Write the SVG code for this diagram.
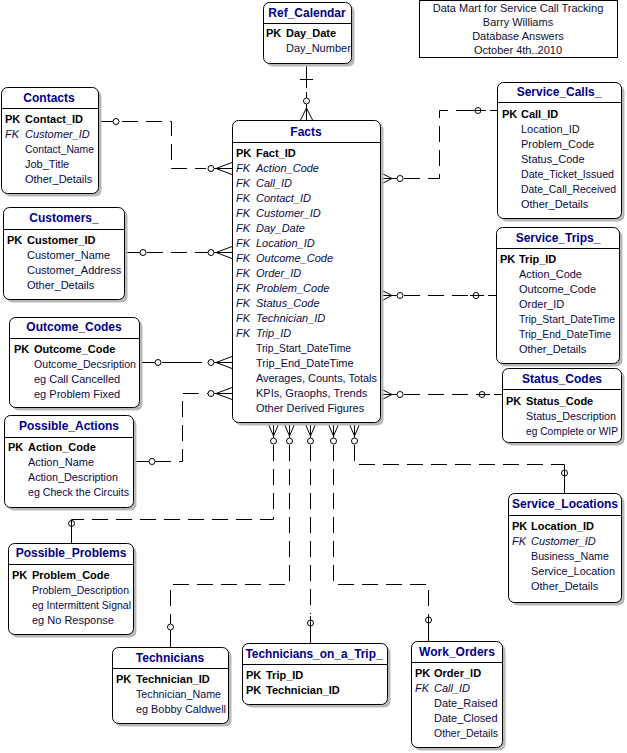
<svg xmlns="http://www.w3.org/2000/svg" width="627" height="753" viewBox="0 0 627 753">
<style>
.bg{fill:#ffffff}
.sh{fill:#b8b8b8;stroke:none}
.box{fill:#ffffff;stroke:#000000;stroke-width:1}
.hl{stroke:#000000;stroke-width:1}
.t{font-family:"Liberation Sans",Arial,sans-serif;font-size:12px;font-weight:bold;fill:#000088;text-anchor:middle}
.pk{font-family:"Liberation Sans",Arial,sans-serif;font-size:11px;font-weight:bold;fill:#000000}
.fk{font-family:"Liberation Sans",Arial,sans-serif;font-size:11px;font-style:italic;fill:#0a0a48}
.a{font-family:"Liberation Sans",Arial,sans-serif;font-size:11px;fill:#0a0a48}
.note{font-family:"Liberation Sans",Arial,sans-serif;font-size:11px;fill:#101030;text-anchor:middle}
.ln{fill:none;stroke:#000000;stroke-width:1}
.dl{fill:none;stroke:#000000;stroke-width:1;stroke-dasharray:16,8}
.c{fill:#ffffff;stroke:#000000;stroke-width:1}
.co{fill:none;stroke:#000000;stroke-width:1}
</style>
<rect class="bg" x="0" y="0" width="627" height="753"/>

<g id="title-note">
<rect x="419.5" y="0.5" width="198" height="57" fill="none" stroke="#000000"/>
<text class="note" x="518" y="12">Data Mart for Service Call Tracking</text>
<text class="note" x="518" y="26">Barry Williams</text>
<text class="note" x="518" y="40">Database Answers</text>
<text class="note" x="518" y="54">October 4th..2010</text>
</g>

<g id="connectors">
<!-- Ref_Calendar -> Facts -->
<path class="ln" d="M306.5,63 V88 M306.5,92 V120"/>
<path class="ln" d="M300,79.5 H313"/>
<circle class="c" cx="306.5" cy="101" r="3"/>
<path class="ln" d="M306.5,108 L300.5,120 M306.5,108 L312.5,120"/>

<!-- Contacts -> Facts -->
<path class="ln" d="M98,121.5 H113"/>
<circle class="c" cx="116" cy="121.5" r="3"/>
<path class="dl" d="M122,121.5 H171.5 V168.5 H206"/>
<path class="ln" d="M214,168.5 H232 M216,168.5 L232,162.5 M216,168.5 L232,174.5"/>
<circle class="c" cx="211" cy="168.5" r="3"/>

<!-- Customers_ -> Facts -->
<path class="ln" d="M124,252.5 H140"/>
<circle class="c" cx="143" cy="252.5" r="3"/>
<path class="dl" d="M147,252.5 H208"/>
<path class="ln" d="M214,252.5 H232 M216,252.5 L232,246.5 M216,252.5 L232,258.5"/>
<circle class="c" cx="211" cy="252.5" r="3"/>

<!-- Outcome_Codes -> Facts -->
<path class="ln" d="M139,362.5 H155"/>
<circle class="c" cx="158" cy="362.5" r="3"/>
<path class="dl" d="M162,362.5 H208" style="stroke-dasharray:40,6"/>
<path class="ln" d="M214,362.5 H232 M216,362.5 L232,356.5 M216,362.5 L232,368.5"/>
<circle class="c" cx="211" cy="362.5" r="3"/>

<!-- Possible_Actions -> Facts -->
<path class="ln" d="M133,461.5 H149"/>
<circle class="c" cx="152" cy="461.5" r="3"/>
<path class="dl" d="M155,461.5 H182.5 V393.5 H208"/>
<path class="ln" d="M214,393.5 H232 M216,393.5 L232,387.5 M216,393.5 L232,399.5"/>
<circle class="c" cx="211" cy="393.5" r="3"/>

<!-- Facts -> Service_Calls_ -->
<path class="ln" d="M380,178.5 H397 M392,178.5 L380,172.5 M392,178.5 L380,184.5"/>
<circle class="c" cx="400" cy="178.5" r="3"/>
<path class="dl" d="M404,178.5 H439.5 V110.5 H472"/>
<path class="ln" d="M472,110.5 H486 M490,110.5 H497"/>
<circle class="co" cx="478" cy="110.5" r="3"/>

<!-- Facts -> Service_Trips_ -->
<path class="ln" d="M380,295.5 H397 M392,295.5 L380,289.5 M392,295.5 L380,301.5"/>
<circle class="c" cx="400" cy="295.5" r="3"/>
<path class="dl" d="M404,295.5 H470"/>
<path class="ln" d="M470,295.5 H484 M488,295.5 H496"/>
<circle class="co" cx="476" cy="295.5" r="3"/>

<!-- Facts -> Status_Codes -->
<path class="ln" d="M380,394.5 H397 M392,394.5 L380,388.5 M392,394.5 L380,400.5"/>
<circle class="c" cx="400" cy="394.5" r="3"/>
<path class="dl" d="M404,394.5 H476"/>
<path class="ln" d="M476,394.5 H490 M494,394.5 H502"/>
<circle class="co" cx="482" cy="394.5" r="3"/>

<!-- Facts -> Possible_Problems -->
<path class="ln" d="M273.5,422 V438 M273.5,436 L267.5,422 M273.5,436 L279.5,422"/>
<circle class="c" cx="273.5" cy="441" r="3"/>
<path class="dl" d="M273.5,445 V519.5 H71.5"/>
<path class="ln" d="M71.5,519.5 V543"/>
<circle class="co" cx="71.5" cy="523.5" r="3"/>

<!-- Facts -> Technicians -->
<path class="ln" d="M289.5,422 V438 M289.5,436 L283.5,422 M289.5,436 L295.5,422"/>
<circle class="c" cx="289.5" cy="441" r="3"/>
<path class="dl" d="M289.5,445 V584.5 H170.5 V624"/>
<path class="ln" d="M170.5,630 V647"/>
<circle class="c" cx="170.5" cy="627" r="3"/>

<!-- Facts -> Technicians_on_a_Trip_ -->
<path class="ln" d="M310.5,422 V438 M310.5,436 L304.5,422 M310.5,436 L316.5,422"/>
<circle class="c" cx="310.5" cy="441" r="3"/>
<path class="dl" d="M310.5,445 V614"/>
<path class="ln" d="M310.5,616 V643"/>
<circle class="co" cx="310.5" cy="623" r="3"/>

<!-- Facts -> Work_Orders -->
<path class="ln" d="M333.5,422 V438 M333.5,436 L327.5,422 M333.5,436 L339.5,422"/>
<circle class="c" cx="333.5" cy="441" r="3"/>
<path class="dl" d="M333.5,445 V584.5 H428.5 V612"/>
<path class="ln" d="M428.5,614 V641"/>
<circle class="co" cx="428.5" cy="620" r="3"/>

<!-- Facts -> Service_Locations -->
<path class="ln" d="M354.5,422 V438 M354.5,436 L348.5,422 M354.5,436 L360.5,422"/>
<circle class="c" cx="354.5" cy="441" r="3"/>
<path class="dl" d="M354.5,445 V464.5 H564.5"/>
<path class="ln" d="M564.5,464.5 V493"/>
<circle class="co" cx="564.5" cy="473" r="3"/>
</g>

<g id="Ref_Calendar">
<rect class="sh" x="266.5" y="5.5" width="88" height="61" rx="6"/>
<rect class="box" x="263.5" y="2.5" width="88" height="61" rx="6"/>
<line class="hl" x1="263.5" y1="23.5" x2="351.5" y2="23.5"/>
<text class="t" x="307" y="17">Ref_Calendar</text>
<text class="pk" x="266" y="37">PK</text><text class="pk" x="286" y="37">Day_Date</text>
<text class="a" x="286" y="52">Day_Number</text>
</g>

<g id="Contacts">
<rect class="sh" x="4.5" y="90.5" width="97" height="106" rx="6"/>
<rect class="box" x="1.5" y="87.5" width="97" height="106" rx="6"/>
<line class="hl" x1="1.5" y1="108.5" x2="98.5" y2="108.5"/>
<text class="t" x="49" y="102">Contacts</text>
<text class="pk" x="5" y="123">PK</text><text class="pk" x="25" y="123">Contact_ID</text>
<text class="fk" x="5" y="138">FK</text><text class="fk" x="25" y="138">Customer_ID</text>
<text class="a" x="25" y="153" textLength="69" lengthAdjust="spacingAndGlyphs">Contact_Name</text>
<text class="a" x="25" y="168">Job_Title</text>
<text class="a" x="25" y="183">Other_Details</text>
</g>

<g id="Customers_">
<rect class="sh" x="6.5" y="210.5" width="121" height="92" rx="6"/>
<rect class="box" x="3.5" y="207.5" width="121" height="92" rx="6"/>
<line class="hl" x1="3.5" y1="229.5" x2="124.5" y2="229.5"/>
<text class="t" x="64" y="222">Customers_</text>
<text class="pk" x="7" y="244">PK</text><text class="pk" x="27" y="244">Customer_ID</text>
<text class="a" x="27" y="259">Customer_Name</text>
<text class="a" x="27" y="274">Customer_Address</text>
<text class="a" x="27" y="289">Other_Details</text>
</g>

<g id="Outcome_Codes">
<rect class="sh" x="12.5" y="320.5" width="130" height="90" rx="6"/>
<rect class="box" x="9.5" y="317.5" width="130" height="90" rx="6"/>
<line class="hl" x1="9.5" y1="338.5" x2="139.5" y2="338.5"/>
<text class="t" x="74" y="331">Outcome_Codes</text>
<text class="pk" x="14" y="353">PK</text><text class="pk" x="34" y="353">Outcome_Code</text>
<text class="a" x="34" y="368" textLength="102" lengthAdjust="spacingAndGlyphs">Outcome_Decsription</text>
<text class="a" x="34" y="383">eg Call Cancelled</text>
<text class="a" x="34" y="398">eg Problem Fixed</text>
</g>

<g id="Possible_Actions">
<rect class="sh" x="7.5" y="418.5" width="129" height="92" rx="6"/>
<rect class="box" x="4.5" y="415.5" width="129" height="92" rx="6"/>
<line class="hl" x1="4.5" y1="437.5" x2="133.5" y2="437.5"/>
<text class="t" x="69" y="430">Possible_Actions</text>
<text class="pk" x="8" y="451">PK</text><text class="pk" x="28" y="451">Action_Code</text>
<text class="a" x="28" y="466">Action_Name</text>
<text class="a" x="28" y="481" textLength="90" lengthAdjust="spacingAndGlyphs">Action_Description</text>
<text class="a" x="28" y="496" textLength="101" lengthAdjust="spacingAndGlyphs">eg Check the Circuits</text>
</g>

<g id="Possible_Problems">
<rect class="sh" x="11.5" y="546.5" width="125" height="91" rx="6"/>
<rect class="box" x="8.5" y="543.5" width="125" height="91" rx="6"/>
<line class="hl" x1="8.5" y1="564.5" x2="133.5" y2="564.5"/>
<text class="t" x="71" y="557">Possible_Problems</text>
<text class="pk" x="12" y="579">PK</text><text class="pk" x="32" y="579">Problem_Code</text>
<text class="a" x="32" y="594" textLength="97" lengthAdjust="spacingAndGlyphs">Problem_Description</text>
<text class="a" x="32" y="609" textLength="99" lengthAdjust="spacingAndGlyphs">eg Intermittent Signal</text>
<text class="a" x="32" y="624">eg No Response</text>
</g>

<g id="Facts">
<rect class="sh" x="235.5" y="123.5" width="148" height="302" rx="6"/>
<rect class="box" x="232.5" y="120.5" width="148" height="302" rx="6"/>
<line class="hl" x1="232.5" y1="142.5" x2="380.5" y2="142.5"/>
<text class="t" x="306" y="136">Facts</text>
<text class="pk" x="236" y="157">PK</text><text class="pk" x="256" y="157">Fact_ID</text>
<text class="fk" x="236" y="172">FK</text><text class="fk" x="256" y="172">Action_Code</text>
<text class="fk" x="236" y="187">FK</text><text class="fk" x="256" y="187">Call_ID</text>
<text class="fk" x="236" y="202">FK</text><text class="fk" x="256" y="202">Contact_ID</text>
<text class="fk" x="236" y="217">FK</text><text class="fk" x="256" y="217">Customer_ID</text>
<text class="fk" x="236" y="232">FK</text><text class="fk" x="256" y="232">Day_Date</text>
<text class="fk" x="236" y="247">FK</text><text class="fk" x="256" y="247">Location_ID</text>
<text class="fk" x="236" y="262">FK</text><text class="fk" x="256" y="262">Outcome_Code</text>
<text class="fk" x="236" y="277">FK</text><text class="fk" x="256" y="277">Order_ID</text>
<text class="fk" x="236" y="292">FK</text><text class="fk" x="256" y="292">Problem_Code</text>
<text class="fk" x="236" y="307">FK</text><text class="fk" x="256" y="307">Status_Code</text>
<text class="fk" x="236" y="322">FK</text><text class="fk" x="256" y="322">Technician_ID</text>
<text class="fk" x="236" y="337">FK</text><text class="fk" x="256" y="337">Trip_ID</text>
<text class="a" x="256" y="352" textLength="95" lengthAdjust="spacingAndGlyphs">Trip_Start_DateTime</text>
<text class="a" x="256" y="367">Trip_End_DateTime</text>
<text class="a" x="256" y="382" textLength="121" lengthAdjust="spacingAndGlyphs">Averages, Counts, Totals</text>
<text class="a" x="256" y="397">KPIs, Graophs, Trends</text>
<text class="a" x="256" y="412">Other Derived Figures</text>
</g>

<g id="Service_Calls_">
<rect class="sh" x="500.5" y="85.5" width="124" height="136" rx="6"/>
<rect class="box" x="497.5" y="82.5" width="124" height="136" rx="6"/>
<line class="hl" x1="497.5" y1="102.5" x2="621.5" y2="102.5"/>
<text class="t" x="559" y="96">Service_Calls_</text>
<text class="pk" x="502" y="118">PK</text><text class="pk" x="521" y="118">Call_ID</text>
<text class="a" x="521" y="133">Location_ID</text>
<text class="a" x="521" y="148">Problem_Code</text>
<text class="a" x="521" y="163">Status_Code</text>
<text class="a" x="521" y="178" textLength="93" lengthAdjust="spacingAndGlyphs">Date_Ticket_Issued</text>
<text class="a" x="521" y="193" textLength="95" lengthAdjust="spacingAndGlyphs">Date_Call_Received</text>
<text class="a" x="521" y="208">Other_Details</text>
</g>

<g id="Service_Trips_">
<rect class="sh" x="499.5" y="230.5" width="123" height="136" rx="6"/>
<rect class="box" x="496.5" y="227.5" width="123" height="136" rx="6"/>
<line class="hl" x1="496.5" y1="248.5" x2="619.5" y2="248.5"/>
<text class="t" x="558" y="242">Service_Trips_</text>
<text class="pk" x="500" y="263">PK</text><text class="pk" x="519" y="263">Trip_ID</text>
<text class="a" x="519" y="278">Action_Code</text>
<text class="a" x="519" y="293">Outcome_Code</text>
<text class="a" x="519" y="308">Order_ID</text>
<text class="a" x="519" y="323" textLength="96" lengthAdjust="spacingAndGlyphs">Trip_Start_DateTime</text>
<text class="a" x="519" y="338" textLength="92" lengthAdjust="spacingAndGlyphs">Trip_End_DateTime</text>
<text class="a" x="519" y="353">Other_Details</text>
</g>

<g id="Status_Codes">
<rect class="sh" x="505.5" y="371.5" width="119" height="74" rx="6"/>
<rect class="box" x="502.5" y="368.5" width="119" height="74" rx="6"/>
<line class="hl" x1="502.5" y1="389.5" x2="621.5" y2="389.5"/>
<text class="t" x="562" y="383">Status_Codes</text>
<text class="pk" x="506" y="405">PK</text><text class="pk" x="526" y="405">Status_Code</text>
<text class="a" x="526" y="420" textLength="90" lengthAdjust="spacingAndGlyphs">Status_Description</text>
<text class="a" x="526" y="435" textLength="92" lengthAdjust="spacingAndGlyphs">eg Complete or WIP</text>
</g>

<g id="Service_Locations">
<rect class="sh" x="511.5" y="496.5" width="113" height="109" rx="6"/>
<rect class="box" x="508.5" y="493.5" width="113" height="109" rx="6"/>
<line class="hl" x1="508.5" y1="515.5" x2="621.5" y2="515.5"/>
<text class="t" x="565" y="508">Service_Locations</text>
<text class="pk" x="512" y="530">PK</text><text class="pk" x="531" y="530">Location_ID</text>
<text class="fk" x="512" y="545">FK</text><text class="fk" x="531" y="545">Customer_ID</text>
<text class="a" x="531" y="560" textLength="78" lengthAdjust="spacingAndGlyphs">Business_Name</text>
<text class="a" x="531" y="575" textLength="84" lengthAdjust="spacingAndGlyphs">Service_Location</text>
<text class="a" x="531" y="590">Other_Details</text>
</g>

<g id="Technicians">
<rect class="sh" x="115.5" y="650.5" width="116" height="76" rx="6"/>
<rect class="box" x="112.5" y="647.5" width="116" height="76" rx="6"/>
<line class="hl" x1="112.5" y1="668.5" x2="228.5" y2="668.5"/>
<text class="t" x="170" y="662">Technicians</text>
<text class="pk" x="116" y="683">PK</text><text class="pk" x="136" y="683">Technician_ID</text>
<text class="a" x="136" y="698" textLength="85" lengthAdjust="spacingAndGlyphs">Technician_Name</text>
<text class="a" x="136" y="713" textLength="90" lengthAdjust="spacingAndGlyphs">eg Bobby Caldwell</text>
</g>

<g id="Technicians_on_a_Trip_">
<rect class="sh" x="245.5" y="646.5" width="145" height="61" rx="6"/>
<rect class="box" x="242.5" y="643.5" width="145" height="61" rx="6"/>
<line class="hl" x1="242.5" y1="664.5" x2="387.5" y2="664.5"/>
<text class="t" x="314" y="658" textLength="137" lengthAdjust="spacingAndGlyphs">Technicians_on_a_Trip_</text>
<text class="pk" x="246" y="679">PK</text><text class="pk" x="266" y="679">Trip_ID</text>
<text class="pk" x="246" y="694">PK</text><text class="pk" x="266" y="694">Technician_ID</text>
</g>

<g id="Work_Orders">
<rect class="sh" x="414.5" y="644.5" width="91" height="106" rx="6"/>
<rect class="box" x="411.5" y="641.5" width="91" height="106" rx="6"/>
<line class="hl" x1="411.5" y1="662.5" x2="502.5" y2="662.5"/>
<text class="t" x="457" y="656">Work_Orders</text>
<text class="pk" x="415" y="677">PK</text><text class="pk" x="434" y="677">Order_ID</text>
<text class="fk" x="415" y="692">FK</text><text class="fk" x="434" y="692">Call_ID</text>
<text class="a" x="434" y="707">Date_Raised</text>
<text class="a" x="434" y="722">Date_Closed</text>
<text class="a" x="434" y="737" textLength="64" lengthAdjust="spacingAndGlyphs">Other_Details</text>
</g>
</svg>
